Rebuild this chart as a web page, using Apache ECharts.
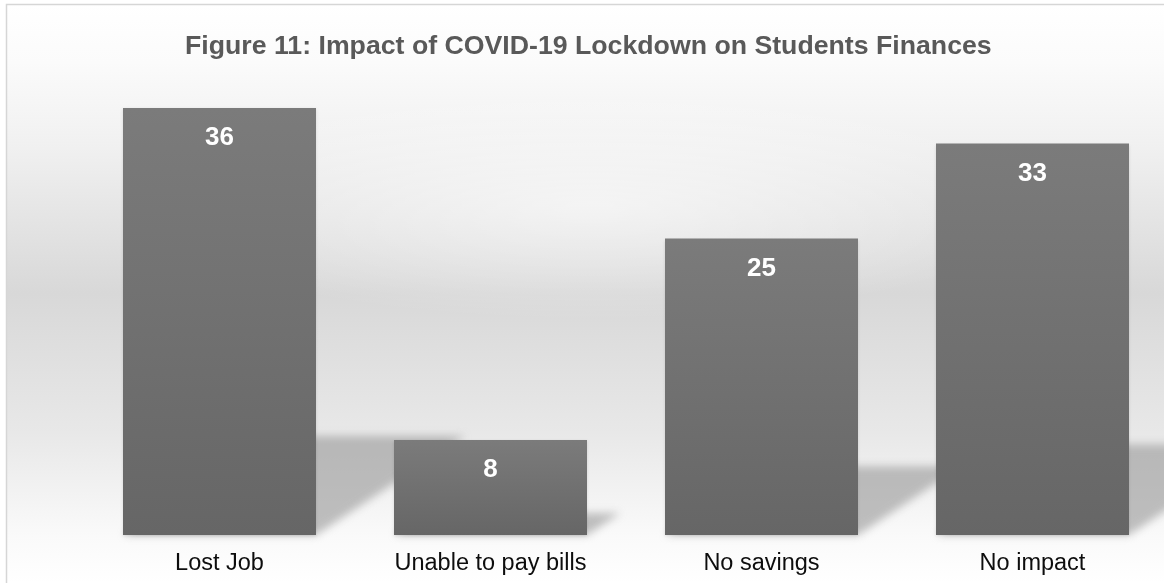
<!DOCTYPE html>
<html>
<head>
<meta charset="utf-8">
<title>Impact of COVID-19 Lockdown on Students Finances</title>
<script src="https://cdn.jsdelivr.net/npm/echarts@6/dist/echarts.min.js"></script>
<style>
  html, body { margin: 0; padding: 0; background: #ffffff; }
  #chart { width: 1164px; height: 583px; }
</style>
</head>
<body>
<div id="chart"></div>
<script>
// Survey responses (percent of students)
const categories = ['Lost Job', 'Unable to pay bills', 'No savings', 'No impact'];
const values = [36, 8, 25, 33];
const titleText = 'Figure 11: Impact of COVID-19 Lockdown on Students Finances';

const FONT = '"Liberation Sans", Arial, sans-serif';
const BAR_WIDTH = 193;
const FAR = 3000; // shapes drawn off-canvas so only their blurred shadow shows

const chart = echarts.init(document.getElementById('chart'), null, { renderer: 'canvas' });

// Perspective floor shadow cast by each bar, skewed up and to the right
function renderShadow(params, api) {
  const idx = api.value(0);
  const val = api.value(1);
  const base = api.coord([idx, 0]);
  const top = api.coord([idx, val]);
  const h = base[1] - top[1];
  const xl = base[0] - BAR_WIDTH / 2 - FAR;
  const xr = base[0] + BAR_WIDTH / 2 - FAR;
  const by = base[1];
  const dx = h * 0.35;
  const dy = h * 0.232;
  return {
    type: 'polygon',
    shape: {
      points: [[xl, by], [xr, by], [xr + dx, by - dy], [xl + dx, by - dy]]
    },
    style: {
      fill: '#000',
      shadowBlur: 9,
      shadowOffsetX: FAR,
      shadowColor: 'rgba(150,150,150,0.6)'
    }
  };
}

const option = {
  animation: false,
  backgroundColor: '#ffffff',
  graphic: [
    {
      type: 'rect',
      z: -10,
      silent: true,
      shape: { x: 6.5, y: 4.5, width: 1200, height: 620 },
      style: {
        stroke: '#d6d6d6',
        lineWidth: 1.5,
        fill: new echarts.graphic.LinearGradient(0, 4, 0, 583, [
          { offset: 0.00, color: '#ffffff' },
          { offset: 0.10, color: '#fbfbfb' },
          { offset: 0.25, color: '#f0f0f0' },
          { offset: 0.50, color: '#d8d8d8' },
          { offset: 0.74, color: '#e8e8e8' },
          { offset: 0.92, color: '#fafafa' },
          { offset: 1.00, color: '#ffffff' }
        ], true)
      }
    },
    {
      // soft light spot across the upper middle of the backdrop
      type: 'circle',
      z: -9,
      silent: true,
      x: 590, y: 205,
      scaleX: 4.0, scaleY: 1,
      shape: { cx: 0, cy: 0, r: 115 },
      style: {
        fill: new echarts.graphic.RadialGradient(0.5, 0.5, 0.5, [
          { offset: 0, color: 'rgba(255,255,255,0.55)' },
          { offset: 1, color: 'rgba(255,255,255,0)' }
        ])
      }
    }
  ],
  title: {
    text: titleText,
    left: 180,
    top: 28,
    textStyle: {
      fontFamily: FONT,
      fontSize: 26.7,
      fontWeight: 'bold',
      color: '#595959'
    }
  },
  // category centres sit on the grid edges (boundaryGap off)
  grid: { left: 219.5, width: 813, top: 60.6, bottom: 48, containLabel: false },
  xAxis: {
    type: 'category',
    data: categories,
    boundaryGap: false,
    axisLine: { show: false },
    axisTick: { show: false },
    splitLine: { show: false },
    axisLabel: {
      margin: 17,
      fontFamily: FONT,
      fontSize: 23.5,
      color: '#0d0d0d',
      interval: 0
    }
  },
  yAxis: {
    type: 'value',
    min: 0,
    max: 40,
    show: false,
    splitLine: { show: false }
  },
  series: [
    {
      type: 'custom',
      name: 'shadow',
      z: 1,
      silent: true,
      clip: false,
      renderItem: renderShadow,
      data: values.map((v, i) => [i, v])
    },
    {
      type: 'bar',
      name: 'Students',
      z: 3,
      clip: false,
      data: values,
      barWidth: BAR_WIDTH,
      itemStyle: {
        color: new echarts.graphic.LinearGradient(0, 0, 0, 1, [
          { offset: 0, color: '#7b7b7b' },
          { offset: 1, color: '#666666' }
        ]),
        shadowColor: 'rgba(0,0,0,0.12)',
        shadowBlur: 3,
        shadowOffsetY: 1
      },
      label: {
        show: true,
        position: 'insideTop',
        distance: 17,
        fontFamily: FONT,
        fontSize: 26,
        fontWeight: 'bold',
        color: '#ffffff'
      }
    }
  ]
};

chart.setOption(option);
</script>
</body>
</html>
